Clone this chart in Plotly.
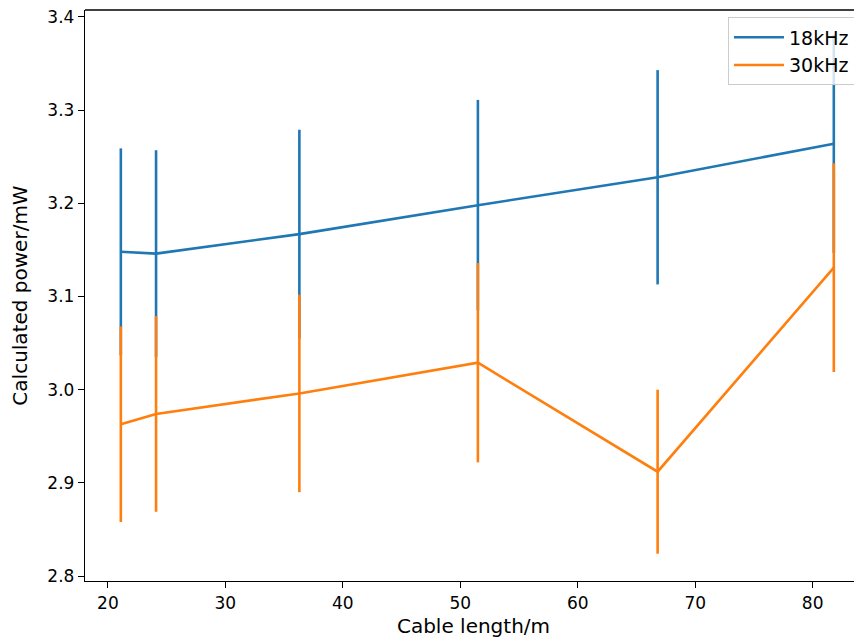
import plotly.graph_objects as go

# cable lengths (m) and calculated power (mW) with error
cable_len = [21.1, 24.1, 36.3, 51.5, 66.8, 81.8]
p_18khz = [3.148, 3.146, 3.167, 3.198, 3.228, 3.264]
err_18khz = [0.111, 0.111, 0.112, 0.113, 0.115, 0.117]
p_30khz = [2.963, 2.974, 2.996, 3.029, 2.912, 3.131]
err_30khz = [0.105, 0.105, 0.106, 0.107, 0.088, 0.112]

fnt = "DejaVu Sans"
fig = go.Figure()
for name, y, e, col in [("18kHz", p_18khz, err_18khz, "#1f77b4"),
                        ("30kHz", p_30khz, err_30khz, "#ff7f0e")]:
    fig.add_trace(go.Scatter(x=cable_len, y=y, name=name, mode="lines",
                             line=dict(color=col, width=2.6),
                             error_y=dict(type="data", array=e, visible=True,
                                          color=col, thickness=2.6, width=0)))

# page has an 8px body margin
fig.update_layout(
    width=854, height=633,
    margin=dict(l=77, r=0, t=2, b=60),
    paper_bgcolor="white", plot_bgcolor="white",
    font=dict(family=fnt, size=17, color="black"),
    legend=dict(x=0.8275, y=0.987, xanchor="left", yanchor="top",
                bgcolor="rgba(255,255,255,0.8)", bordercolor="#cccccc", borderwidth=1,
                itemwidth=50, font=dict(size=19)),
    # top spine (no right spine in the original, it is off the edge)
    shapes=[dict(type="line", xref="paper", yref="paper", x0=0, x1=1, y0=1, y1=1,
                 line=dict(color="black", width=1.4))],
)
fig.update_xaxes(range=[18.05, 84.2], tickvals=[20, 30, 40, 50, 60, 70, 80],
                 showline=True, linecolor="black", linewidth=1.4, mirror=False,
                 ticks="outside", ticklen=6, tickwidth=1.4, tickcolor="black",
                 showgrid=False, zeroline=False, ticklabeloverflow="allow",
                 title=dict(text="Cable length/m", standoff=7))
fig.update_yaxes(range=[2.7947, 3.4075], tickvals=[2.8, 2.9, 3.0, 3.1, 3.2, 3.3, 3.4],
                 tickformat=".1f",
                 showline=True, linecolor="black", linewidth=1.4, mirror=False,
                 ticks="outside", ticklen=6, tickwidth=1.4, tickcolor="black",
                 showgrid=False, zeroline=False, ticklabeloverflow="allow",
                 title=dict(text="Calculated power/mW", standoff=14))

fig.write_html("out.html")
